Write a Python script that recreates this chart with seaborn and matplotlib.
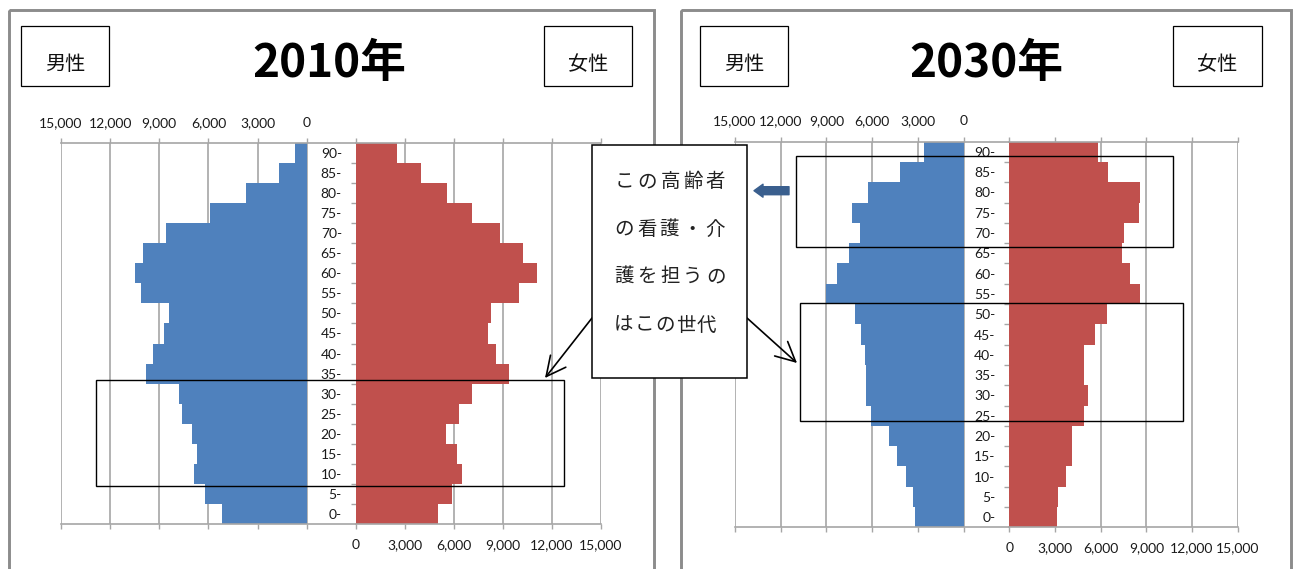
import numpy as np
import pandas as pd
import matplotlib
matplotlib.use("Agg")
import matplotlib.pyplot as plt
from matplotlib.patches import Rectangle, FancyArrow
from matplotlib.ticker import FixedLocator
import seaborn as sns

# ---- data (population by 5-year age group, top row = oldest) ----
ages = ["90-", "85-", "80-", "75-", "70-", "65-", "60-", "55-", "50-", "45-",
        "40-", "35-", "30-", "25-", "20-", "15-", "10-", "5-", "0-"]

male_2010 = [700, 1700, 3700, 5900, 8600, 10000, 10500, 10100, 8400, 8700,
             9400, 9800, 7800, 7600, 7000, 6700, 6900, 6200, 5200]
female_2010 = [2500, 4000, 5600, 7100, 8800, 10200, 11100, 10000, 8300, 8100,
               8600, 9400, 7100, 6300, 5500, 6200, 6500, 5900, 5000]
male_2030 = [2600, 4200, 6300, 7300, 6800, 7500, 8300, 9000, 7100, 6700,
             6500, 6400, 6400, 6100, 4900, 4400, 3800, 3300, 3200]
female_2030 = [5800, 6500, 8600, 8500, 7500, 7400, 7900, 8600, 6400, 5600,
               4900, 4900, 5200, 4900, 4100, 4100, 3700, 3200, 3100]

xticks = [0, 3000, 6000, 9000, 12000, 15000]
xtick_labels = ["0", "3,000", "6,000", "9,000", "12,000", "15,000"]

years = ["2010年", "2030年"]
sex_labels = ["男性", "女性"]
callout_lines = ["この高齢者", "の看護・介", "護を担うの", "はこの世代"]

BLUE = "#4F81BD"
RED = "#C0504D"
GRID = "#A6A6A6"
FRAME = "#8C8C8C"

sns.set_style("white")
plt.rcParams["font.family"] = ["Lato", "Noto Sans CJK JP", "DejaVu Sans"]
JP = ["Noto Sans CJK JP", "DejaVu Sans"]

W, H = 1301, 569
fig = plt.figure(figsize=(W / 100, H / 100), dpi=100)
fig.patch.set_facecolor("white")


def add_ax(x0, x1, y0, y1):
    return fig.add_axes([x0 / W, 1 - y1 / H, (x1 - x0) / W, (y1 - y0) / H])


def style_common(ax):
    ax.set_xlabel("")
    ax.set_ylabel("")
    ax.set_ylim(len(ages) - 0.5, -0.5)
    for s in ("left", "right"):
        ax.spines[s].set_visible(False)
    for s in ("top", "bottom"):
        ax.spines[s].set_visible(True)
        ax.spines[s].set_color(GRID)
        ax.spines[s].set_linewidth(1.2)
    ax.set_axisbelow(True)
    ax.set_facecolor("none")


def draw_panel(male, female, mx0, mx1, fx1, y0, y1):
    axm = add_ax(mx0, mx1, y0, y1)
    axf = add_ax(mx1, fx1, y0, y1)

    sns.barplot(x=male, y=ages, order=ages, orient="h", color=BLUE,
                saturation=1, width=1, linewidth=0, ax=axm)
    sns.barplot(x=female, y=ages, order=ages, orient="h", color=RED,
                saturation=1, width=1, linewidth=0, ax=axf)

    # male side: reversed scale, labels on top
    style_common(axm)
    axm.set_xlim(15000, -3000)
    axm.xaxis.set_major_locator(FixedLocator(xticks))
    axm.set_xticklabels(xtick_labels)
    axm.tick_params(axis="x", which="major", top=True, bottom=True,
                    labeltop=True, labelbottom=False, direction="out",
                    length=3.8, width=1, color=GRID, pad=6.5,
                    labelsize=10, labelcolor="#1a1a1a")
    axm.tick_params(axis="y", which="both", left=False, labelleft=False)
    axm.xaxis.grid(True, color=GRID, linewidth=1.2)
    axm.yaxis.grid(False)

    # female side: labels at the bottom, age labels on the left
    style_common(axf)
    axf.set_xlim(0, 15000)
    axf.xaxis.set_major_locator(FixedLocator(xticks))
    axf.set_xticklabels(xtick_labels)
    axf.tick_params(axis="x", which="major", top=True, bottom=True,
                    labeltop=False, labelbottom=True, direction="out",
                    length=3.8, width=1, color=GRID, pad=7,
                    labelsize=10, labelcolor="#1a1a1a")
    axf.set_yticks(range(len(ages)))
    axf.set_yticklabels(ages)
    axf.yaxis.set_minor_locator(FixedLocator(np.arange(0.5, len(ages) - 1, 1)))
    axf.tick_params(axis="y", which="major", left=True, length=0, pad=10,
                    labelsize=10, labelcolor="#1a1a1a")
    axf.tick_params(axis="y", which="minor", left=True, length=3.8,
                    width=1, color=GRID, direction="out")
    axf.xaxis.grid(True, color=GRID, linewidth=1.2)
    axf.yaxis.grid(False)
    return axm, axf


draw_panel(male_2010, female_2010, 61, 355.8, 601, 143, 524)
draw_panel(male_2030, female_2030, 735, 1009.3, 1237.7, 141.7, 527.3)

# ---- overlay in pixel coordinates for frames, headers and annotations ----
ov = fig.add_axes([0, 0, 1, 1], zorder=10)
ov.set_xlim(0, W)
ov.set_ylim(H, 0)
ov.axis("off")
ov.patch.set_visible(False)


def rect(x0, y0, x1, y1, **kw):
    ov.add_patch(Rectangle((x0, y0), x1 - x0, y1 - y0, **kw))


# panel frames
rect(8.5, 10, 654, 620, fill=False, edgecolor=FRAME, linewidth=2.1, zorder=1)
rect(680.5, 10, 1291, 620, fill=False, edgecolor=FRAME, linewidth=2.1, zorder=1)

# headers
headers = [
    (years[0], 329, (21, 109), (544, 632)),
    (years[1], 986, (700, 788), (1173, 1262)),
]
for title, tx, mbox, fbox in headers:
    ov.text(tx, 77, title, family=JP, fontsize=33, fontweight="bold",
            ha="center", va="baseline", color="black", zorder=3)
    for (bx0, bx1), lab in zip((mbox, fbox), sex_labels):
        rect(bx0, 26, bx1, 86, facecolor="white", edgecolor="black",
             linewidth=0.9, zorder=2)
        ov.text((bx0 + bx1) / 2, 70, lab, family=JP, fontsize=14.5,
                ha="center", va="baseline", color="#111111", zorder=3)

# highlighted age bands
rect(96, 380, 564, 486, fill=False, edgecolor="black", linewidth=1.0, zorder=4)
rect(796, 156, 1173, 247, fill=False, edgecolor="black", linewidth=1.0, zorder=4)
rect(800, 303, 1183, 421, fill=False, edgecolor="black", linewidth=1.0, zorder=4)

# callout pointers
arrow_kw = dict(arrowstyle="->,head_length=0.7,head_width=0.35",
                mutation_scale=20, linewidth=1.2, color="black",
                shrinkA=0, shrinkB=0)
ov.annotate("", xy=(545, 378), xytext=(592, 318), arrowprops=arrow_kw, zorder=5)
ov.annotate("", xy=(797, 363), xytext=(747, 318), arrowprops=arrow_kw, zorder=5)

# callout box with spaced characters
rect(591.7, 145, 746.7, 378, facecolor="white", edgecolor="black",
     linewidth=1.1, zorder=6)
line_y = [181.7, 229.3, 276.7, 325]
pitch = [22.8, 22.6, 22.8, 20.8]
for line, yc, p in zip(callout_lines, line_y, pitch):
    for i, ch in enumerate(line):
        ov.text(613 + p / 2 + i * p, yc, ch, family=JP, fontsize=14,
                ha="center", va="center", color="#222222", zorder=7)

# thick pointer toward the elderly band
ov.add_patch(FancyArrow(789, 190.7, -26, 0, width=8, head_width=13,
                        head_length=9, length_includes_head=False,
                        color="#3A5F8E", linewidth=1, joinstyle="round",
                        capstyle="round", zorder=6))

fig.savefig("out.png", dpi=100)
